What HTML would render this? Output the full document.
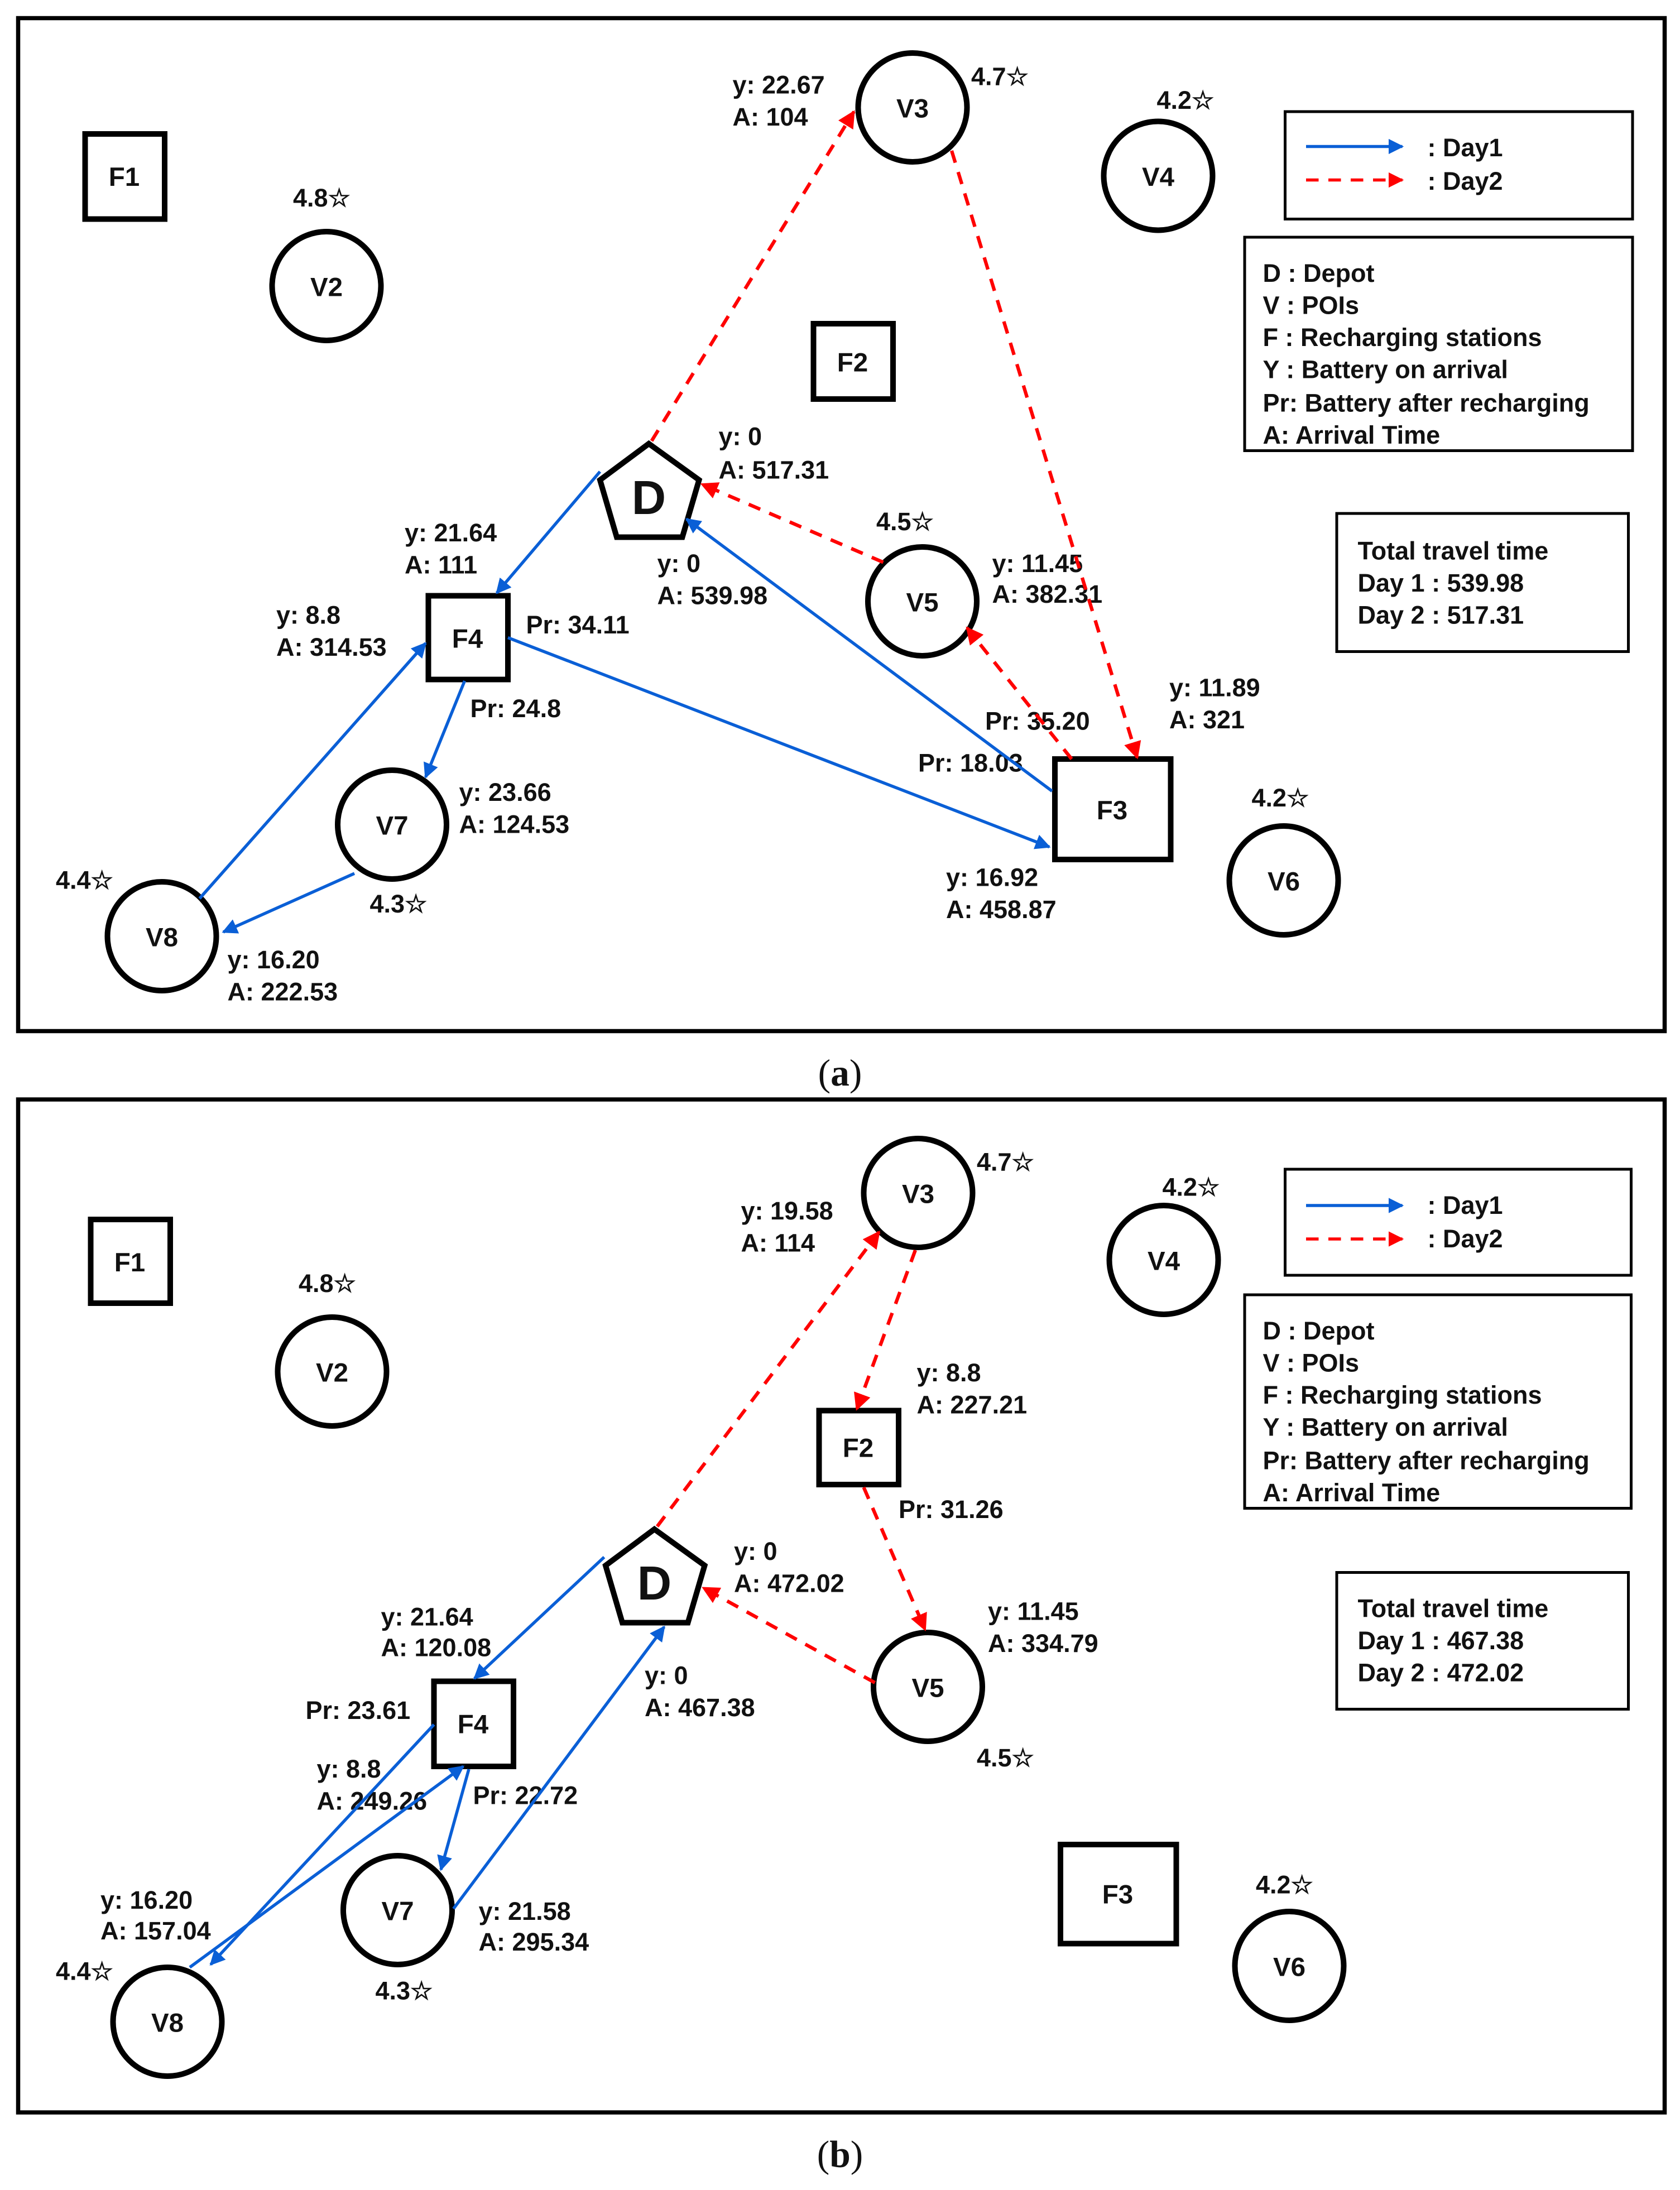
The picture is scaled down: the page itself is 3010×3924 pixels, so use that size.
<!DOCTYPE html>
<html><head><meta charset="utf-8"><style>
html,body{margin:0;padding:0;background:#fff;}
svg{display:block;}
text{font-family:"Liberation Sans",sans-serif;font-weight:bold;fill:#111;}
.l{font-size:18px;}
.n{font-size:19px;text-anchor:middle;dominant-baseline:central;}
.g{font-size:18px;}
</style></head><body>
<svg width="3010" height="3924" viewBox="0 0 1204 1569.6" xmlns="http://www.w3.org/2000/svg">
<defs>
<marker id="ab" viewBox="0 0 10 10" refX="9" refY="5" markerWidth="5" markerHeight="5" orient="auto" markerUnits="strokeWidth"><path d="M0,0L10,5L0,10z" fill="#0a5fd6"/></marker>
<marker id="ar" viewBox="0 0 10 10" refX="9" refY="5" markerWidth="5" markerHeight="5" orient="auto" markerUnits="strokeWidth"><path d="M0,0L10,5L0,10z" fill="#f00"/></marker>
<marker id="lb" viewBox="0 0 10 10" refX="9" refY="5" markerWidth="5" markerHeight="5" orient="auto" markerUnits="strokeWidth"><path d="M0,0L10,5L0,10z" fill="#0a5fd6"/></marker>
</defs>
<g fill="none" stroke="#000">
<rect x="13" y="13" width="1180" height="726" stroke-width="3"/>
<rect x="13" y="788" width="1180" height="726" stroke-width="3"/>
</g>
<text x="602" y="778" style="font-family:'Liberation Serif',serif;font-weight:normal;font-size:27px" text-anchor="middle">(<tspan font-weight="bold">a</tspan>)</text>
<text x="602" y="1553" style="font-family:'Liberation Serif',serif;font-weight:normal;font-size:27px" text-anchor="middle">(<tspan font-weight="bold">b</tspan>)</text>

<!-- ===== Panel A ===== -->
<g fill="#fff" stroke="#000" stroke-width="4">
<rect x="61" y="96" width="57" height="61"/>
<circle cx="234" cy="205" r="39"/>
<circle cx="654" cy="77" r="39"/>
<circle cx="830" cy="126" r="39"/>
<rect x="583" y="232" width="57" height="54"/>
<polygon points="465,318 501,344 489,385 442,385 430,344"/>
<circle cx="661" cy="431" r="39"/>
<rect x="307" y="427" width="57" height="60"/>
<circle cx="281" cy="591" r="39"/>
<circle cx="116" cy="671" r="39"/>
<rect x="756" y="544" width="83" height="72"/>
<circle cx="920" cy="631" r="39"/>
</g>
<g fill="none" stroke="#000" stroke-width="2">
<rect x="921" y="80" width="249" height="77"/>
<rect x="892" y="170" width="278" height="153"/>
<rect x="958" y="368" width="209" height="99"/>
</g>
<g class="n">
<text class="n" x="89" y="127">F1</text>
<text class="n" x="234" y="206">V2</text>
<text class="n" x="654" y="78">V3</text>
<text class="n" x="830" y="127">V4</text>
<text class="n" x="611" y="260">F2</text>
<text class="n" x="465" y="357" style="font-size:34px">D</text>
<text class="n" x="661" y="432">V5</text>
<text class="n" x="335" y="458">F4</text>
<text class="n" x="281" y="592">V7</text>
<text class="n" x="116" y="672">V8</text>
<text class="n" x="797" y="581">F3</text>
<text class="n" x="920" y="632">V6</text>
</g>
<g class="l">
<text class="l" x="210" y="148">4.8☆</text>
<text class="l" x="696" y="61">4.7☆</text>
<text class="l" x="829" y="78">4.2☆</text>
<text class="l" x="525" y="67">y: 22.67</text><text class="l" x="525" y="90">A: 104</text>
<text class="l" x="515" y="319">y: 0</text><text class="l" x="515" y="343">A: 517.31</text>
<text class="l" x="471" y="410">y: 0</text><text class="l" x="471" y="433">A: 539.98</text>
<text class="l" x="628" y="380">4.5☆</text>
<text class="l" x="711" y="410">y: 11.45</text><text class="l" x="711" y="432">A: 382.31</text>
<text class="l" x="290" y="388">y: 21.64</text><text class="l" x="290" y="411">A: 111</text>
<text class="l" x="198" y="447">y: 8.8</text><text class="l" x="198" y="470">A: 314.53</text>
<text class="l" x="377" y="454">Pr: 34.11</text>
<text class="l" x="337" y="514">Pr: 24.8</text>
<text class="l" x="329" y="574">y: 23.66</text><text class="l" x="329" y="597">A: 124.53</text>
<text class="l" x="265" y="654">4.3☆</text>
<text class="l" x="40" y="637">4.4☆</text>
<text class="l" x="163" y="694">y: 16.20</text><text class="l" x="163" y="717">A: 222.53</text>
<text class="l" x="838" y="499">y: 11.89</text><text class="l" x="838" y="522">A: 321</text>
<text class="l" x="706" y="523">Pr: 35.20</text>
<text class="l" x="658" y="553">Pr: 18.03</text>
<text class="l" x="678" y="635">y: 16.92</text><text class="l" x="678" y="658">A: 458.87</text>
<text class="l" x="897" y="578">4.2☆</text>
</g>
<g class="g">
<text class="g" x="1023" y="112">: Day1</text>
<text class="g" x="1023" y="136">: Day2</text>
<text class="g" x="905" y="202">D : Depot</text>
<text class="g" x="905" y="225">V : POIs</text>
<text class="g" x="905" y="248">F : Recharging stations</text>
<text class="g" x="905" y="271">Y : Battery on arrival</text>
<text class="g" x="905" y="295">Pr: Battery after recharging</text>
<text class="g" x="905" y="318">A: Arrival Time</text>
<text class="g" x="973" y="401">Total travel time</text>
<text class="g" x="973" y="424">Day 1 : 539.98</text>
<text class="g" x="973" y="447">Day 2 : 517.31</text>
</g>
<g fill="none" stroke-width="2.2">
<line x1="936" y1="105" x2="1005" y2="105" stroke="#0a5fd6" marker-end="url(#ab)"/>
<line x1="936" y1="129" x2="1005" y2="129" stroke="#f00" stroke-dasharray="9,7" marker-end="url(#ar)"/>
<g stroke="#f00" stroke-dasharray="9,7" stroke-width="2.5">
<line x1="467" y1="316" x2="612" y2="80" marker-end="url(#ar)"/>
<line x1="682" y1="108" x2="815" y2="543" marker-end="url(#ar)"/>
<line x1="633" y1="403" x2="503" y2="347" marker-end="url(#ar)"/>
<line x1="768" y1="544" x2="693" y2="450" marker-end="url(#ar)"/>
</g>
<g stroke="#0a5fd6" stroke-width="2.2">
<line x1="430" y1="338" x2="356" y2="425" marker-end="url(#ab)"/>
<line x1="364" y1="457" x2="752" y2="607" marker-end="url(#ab)"/>
<line x1="754" y1="567" x2="492" y2="372" marker-end="url(#ab)"/>
<line x1="333" y1="488" x2="305" y2="557" marker-end="url(#ab)"/>
<line x1="254" y1="626" x2="160" y2="668" marker-end="url(#ab)"/>
<line x1="143" y1="644" x2="305" y2="461" marker-end="url(#ab)"/>
</g>
</g>

<!-- ===== Panel B ===== -->
<g fill="#fff" stroke="#000" stroke-width="4">
<rect x="65" y="874" width="57" height="60"/>
<circle cx="238" cy="983" r="39"/>
<circle cx="658" cy="855" r="39"/>
<circle cx="834" cy="903" r="39"/>
<rect x="587" y="1011" width="57" height="53"/>
<polygon points="469,1096 505,1122 493,1163 446,1163 434,1122"/>
<circle cx="665" cy="1209" r="39"/>
<rect x="311" y="1205" width="57" height="61"/>
<circle cx="285" cy="1369" r="39"/>
<circle cx="120" cy="1449" r="39"/>
<rect x="760" y="1322" width="83" height="71"/>
<circle cx="924" cy="1409" r="39"/>
</g>
<g fill="none" stroke="#000" stroke-width="2">
<rect x="921" y="838" width="248" height="76"/>
<rect x="892" y="928" width="277" height="153"/>
<rect x="958" y="1127" width="209" height="98"/>
</g>
<g>
<text class="n" x="93" y="905">F1</text>
<text class="n" x="238" y="984">V2</text>
<text class="n" x="658" y="856">V3</text>
<text class="n" x="834" y="904">V4</text>
<text class="n" x="615" y="1038">F2</text>
<text class="n" x="469" y="1135" style="font-size:34px">D</text>
<text class="n" x="665" y="1210">V5</text>
<text class="n" x="339" y="1236">F4</text>
<text class="n" x="285" y="1370">V7</text>
<text class="n" x="120" y="1450">V8</text>
<text class="n" x="801" y="1358">F3</text>
<text class="n" x="924" y="1410">V6</text>
</g>
<g>
<text class="l" x="214" y="926">4.8☆</text>
<text class="l" x="700" y="839">4.7☆</text>
<text class="l" x="833" y="857">4.2☆</text>
<text class="l" x="531" y="874">y: 19.58</text><text class="l" x="531" y="897">A: 114</text>
<text class="l" x="657" y="990">y: 8.8</text><text class="l" x="657" y="1013">A: 227.21</text>
<text class="l" x="644" y="1088">Pr: 31.26</text>
<text class="l" x="526" y="1118">y: 0</text><text class="l" x="526" y="1141">A: 472.02</text>
<text class="l" x="462" y="1207">y: 0</text><text class="l" x="462" y="1230">A: 467.38</text>
<text class="l" x="708" y="1161">y: 11.45</text><text class="l" x="708" y="1184">A: 334.79</text>
<text class="l" x="700" y="1266">4.5☆</text>
<text class="l" x="273" y="1165">y: 21.64</text><text class="l" x="273" y="1187">A: 120.08</text>
<text class="l" x="219" y="1232">Pr: 23.61</text>
<text class="l" x="227" y="1274">y: 8.8</text><text class="l" x="227" y="1297">A: 249.26</text>
<text class="l" x="339" y="1293">Pr: 22.72</text>
<text class="l" x="343" y="1376">y: 21.58</text><text class="l" x="343" y="1398">A: 295.34</text>
<text class="l" x="269" y="1433">4.3☆</text>
<text class="l" x="40" y="1419">4.4☆</text>
<text class="l" x="72" y="1368">y: 16.20</text><text class="l" x="72" y="1390">A: 157.04</text>
<text class="l" x="900" y="1357">4.2☆</text>
</g>
<g>
<text class="g" x="1023" y="870">: Day1</text>
<text class="g" x="1023" y="894">: Day2</text>
<text class="g" x="905" y="960">D : Depot</text>
<text class="g" x="905" y="983">V : POIs</text>
<text class="g" x="905" y="1006">F : Recharging stations</text>
<text class="g" x="905" y="1029">Y : Battery on arrival</text>
<text class="g" x="905" y="1053">Pr: Battery after recharging</text>
<text class="g" x="905" y="1076">A: Arrival Time</text>
<text class="g" x="973" y="1159">Total travel time</text>
<text class="g" x="973" y="1182">Day 1 : 467.38</text>
<text class="g" x="973" y="1205">Day 2 : 472.02</text>
</g>
<g fill="none" stroke-width="2.2">
<line x1="936" y1="864" x2="1005" y2="864" stroke="#0a5fd6" marker-end="url(#ab)"/>
<line x1="936" y1="888" x2="1005" y2="888" stroke="#f00" stroke-dasharray="9,7" marker-end="url(#ar)"/>
<g stroke="#f00" stroke-dasharray="9,7" stroke-width="2.5">
<line x1="471" y1="1094" x2="630" y2="883" marker-end="url(#ar)"/>
<line x1="656" y1="896" x2="614" y2="1010" marker-end="url(#ar)"/>
<line x1="619" y1="1066" x2="663" y2="1168" marker-end="url(#ar)"/>
<line x1="627" y1="1206" x2="504" y2="1138" marker-end="url(#ar)"/>
</g>
<g stroke="#0a5fd6" stroke-width="2.2">
<line x1="433" y1="1116" x2="340" y2="1203" marker-end="url(#ab)"/>
<line x1="311" y1="1236" x2="151" y2="1408" marker-end="url(#ab)"/>
<line x1="136" y1="1410" x2="332" y2="1266" marker-end="url(#ab)"/>
<line x1="336" y1="1268" x2="316" y2="1340" marker-end="url(#ab)"/>
<line x1="325" y1="1368" x2="476" y2="1166" marker-end="url(#ab)"/>
</g>
</g>
</svg>
</body></html>
